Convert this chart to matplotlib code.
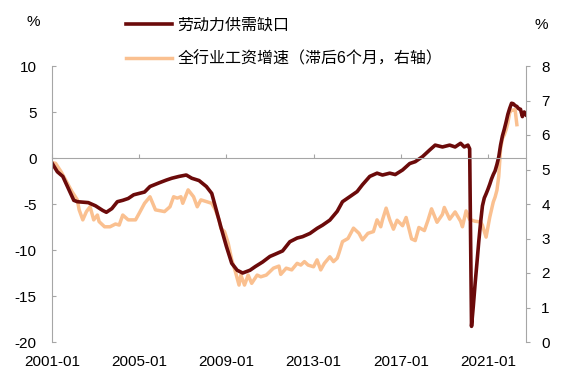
import matplotlib
matplotlib.use("Agg")
import matplotlib.pyplot as plt
import pandas as pd

plt.rcParams['font.family'] = ['Liberation Sans', 'Noto Sans CJK SC']

# ---- data ----
dark_dates = ["2001-01", "2001-04", "2001-07", "2001-10", "2002-01", "2002-03", "2002-06", "2002-09",
              "2003-01", "2003-05", "2003-07", "2003-10", "2004-01", "2004-04", "2004-07", "2004-10",
              "2005-04", "2005-07", "2005-12", "2006-04", "2006-07", "2006-11", "2007-03", "2007-06",
              "2007-10", "2008-02", "2008-05", "2008-07", "2008-10", "2009-01", "2009-04", "2009-07",
              "2009-10", "2010-02", "2010-05", "2010-09", "2011-01", "2011-04", "2011-08", "2011-12",
              "2012-04", "2012-07", "2012-11", "2013-03", "2013-06", "2013-10", "2014-02", "2014-05",
              "2014-09", "2015-01", "2015-04", "2015-08", "2015-12", "2016-03", "2016-07", "2016-10",
              "2017-02", "2017-06", "2017-09", "2018-01", "2018-05", "2018-08", "2018-12", "2019-04",
              "2019-07", "2019-10", "2019-12", "2020-02", "2020-03", "2020-04", "2020-05", "2020-06",
              "2020-07", "2020-08", "2020-09", "2020-10", "2020-11", "2020-12", "2021-01", "2021-02",
              "2021-03", "2021-04", "2021-05", "2021-06", "2021-07", "2021-08", "2021-09", "2021-10",
              "2021-11", "2021-12", "2022-01", "2022-02", "2022-03", "2022-04", "2022-05", "2022-06",
              "2022-07", "2022-08", "2022-09", "2022-10"]
dark_values = [-0.55, -1.5, -2.0, -3.3, -4.6, -4.75, -4.8, -4.85,
               -5.2, -5.7, -5.9, -5.5, -4.75, -4.6, -4.4, -4.0,
               -3.7, -3.1, -2.7, -2.4, -2.2, -2.0, -1.85, -2.2,
               -2.45, -3.1, -3.85, -5.3, -7.5, -9.6, -11.45, -12.2,
               -12.5, -12.2, -11.8, -11.3, -10.7, -10.45, -10.1, -9.1,
               -8.7, -8.55, -8.2, -7.65, -7.3, -6.75, -5.8, -4.75,
               -4.2, -3.65, -2.9, -2.0, -1.65, -1.85, -1.65, -1.8,
               -1.3, -0.6, -0.4, 0.15, 0.87, 1.4, 1.2, 1.4,
               1.2, 1.6, 1.2, 1.4, 1.0, -18.3, -16.1, -13.6,
               -11.4, -9.05, -6.95, -5.2, -4.35, -3.9, -3.4, -2.85,
               -2.3, -1.8, -1.4, -0.7, 0.1, 1.4, 2.4, 3.1,
               3.9, 4.75, 5.4, 5.95, 5.9, 5.7, 5.6, 5.35,
               5.3, 4.5, 5.0, 4.7]

light_dates = ["2001-01", "2001-03", "2001-06", "2001-09", "2001-12", "2002-03", "2002-04", "2002-06",
               "2002-08", "2002-10", "2002-12", "2003-02", "2003-03", "2003-06", "2003-09", "2003-12",
               "2004-02", "2004-04", "2004-07", "2004-11", "2005-01", "2005-04", "2005-07", "2005-10",
               "2006-01", "2006-03", "2006-06", "2006-08", "2006-10", "2006-12", "2007-01", "2007-04",
               "2007-07", "2007-09", "2007-11", "2008-02", "2008-05", "2008-07", "2008-09", "2008-10",
               "2008-12", "2009-02", "2009-04", "2009-06", "2009-08", "2009-09", "2009-11", "2010-01",
               "2010-03", "2010-06", "2010-08", "2010-11", "2011-03", "2011-06", "2011-07", "2011-10",
               "2012-01", "2012-04", "2012-06", "2012-08", "2012-10", "2013-01", "2013-03", "2013-05",
               "2013-07", "2013-10", "2013-12", "2014-02", "2014-03", "2014-05", "2014-08", "2014-11",
               "2015-02", "2015-04", "2015-07", "2015-10", "2015-12", "2016-02", "2016-03", "2016-05",
               "2016-07", "2016-09", "2016-11", "2017-02", "2017-04", "2017-07", "2017-09", "2017-11",
               "2018-02", "2018-04", "2018-06", "2018-09", "2018-12", "2019-01", "2019-04", "2019-07",
               "2019-10", "2019-11", "2020-01", "2020-03", "2020-06", "2020-09", "2020-10", "2020-12",
               "2021-02", "2021-04", "2021-05", "2021-06", "2021-07", "2021-08", "2021-09", "2021-10",
               "2021-11", "2021-12", "2022-01", "2022-02", "2022-03", "2022-04", "2022-05"]
light_values = [5.2, 5.18, 4.94, 4.65, 4.36, 4.12, 3.83, 3.54,
                3.78, 3.92, 3.54, 3.68, 3.49, 3.34, 3.34, 3.42,
                3.39, 3.68, 3.54, 3.54, 3.73, 4.02, 4.21, 3.83,
                3.8, 3.78, 3.92, 4.21, 4.17, 4.21, 4.02, 4.41,
                4.21, 3.92, 4.12, 4.07, 4.02, 3.83, 3.54, 3.29,
                3.2, 2.86, 2.38, 2.04, 1.65, 1.94, 1.65, 1.94,
                1.70, 1.94, 1.89, 1.94, 2.14, 2.2, 1.96, 2.14,
                2.09, 2.28, 2.23, 2.33, 2.23, 2.18, 2.38, 2.09,
                2.28, 2.47, 2.33, 2.43, 2.57, 2.91, 3.0, 3.3,
                3.15, 2.96, 3.15, 3.2, 3.54, 3.34, 3.54, 3.88,
                3.54, 3.27, 3.53, 3.37, 3.61, 2.99, 2.94, 3.32,
                3.23, 3.52, 3.86, 3.47, 3.7, 3.9, 3.56, 3.77,
                3.5, 3.34, 3.8, 3.55, 3.5, 3.48, 3.38, 3.04,
                3.62, 4.06, 4.2, 4.4, 4.8, 5.6, 5.9, 6.0,
                6.15, 6.35, 6.65, 6.72, 6.72, 6.74, 6.3]

x_ticks = ["2001-01", "2005-01", "2009-01", "2013-01", "2017-01", "2021-01"]
left_ticks = [-20, -15, -10, -5, 0, 5, 10]
right_ticks = [0, 1, 2, 3, 4, 5, 6, 7, 8]

dark_label = "劳动力供需缺口"
light_label = "全行业工资增速（滞后6个月，右轴）"

DARK = "#6B0A0A"
LIGHT = "#FAC090"
GRAY = "#A6A6A6"

# ---- figure ----
fig = plt.figure(figsize=(5.64, 3.78), dpi=100)
ax = fig.add_axes([52/564, 1-342/378, (526-52)/564, (342-66)/378])
ax2 = ax.twinx()
ax.set_zorder(ax2.get_zorder() + 1)
ax.patch.set_visible(False)

dd = pd.to_datetime(dark_dates, format="%Y-%m")
ld = pd.to_datetime(light_dates, format="%Y-%m")
xt = pd.to_datetime(x_ticks, format="%Y-%m")

l2, = ax2.plot(ld, light_values, color=LIGHT, lw=2.5, solid_joinstyle='round')
l1, = ax.plot(dd, dark_values, color=DARK, lw=2.6, solid_joinstyle='round')

ax.set_xlim(pd.Timestamp("2001-01-01"), pd.Timestamp("2022-10-01"))
ax.set_ylim(-20, 10)
ax2.set_ylim(0, 8)

# left axis
ax.set_yticks(left_ticks)
ax.set_yticklabels([str(v) for v in left_ticks])
ax.tick_params(axis='y', direction='in', length=3, color=GRAY, labelsize=11, pad=11)
for s in ['top', 'right']:
    ax.spines[s].set_visible(False)
ax.spines['left'].set_color(GRAY)
ax.spines['bottom'].set_color(GRAY)
ax.spines['bottom'].set_position(('data', 0))

# x ticks on zero line (pointing up), labels at bottom
ax.set_xticks(xt)
ax.tick_params(axis='x', direction='in', length=3, color=GRAY, labelbottom=False)
sec = ax.secondary_xaxis('bottom')
sec.set_xticks(xt)
sec.set_xticklabels(x_ticks)
sec.tick_params(length=0, labelsize=11, pad=9)
sec.spines['bottom'].set_visible(False)

# right axis
ax2.set_yticks(right_ticks)
ax2.set_yticklabels([str(v) for v in right_ticks])
ax2.tick_params(axis='y', direction='out', length=3, color=GRAY, labelsize=11, pad=8)
for s in ['top', 'left', 'bottom']:
    ax2.spines[s].set_visible(False)
ax2.spines['right'].set_color(GRAY)

fig.text(33/564, 1-22/378, "%", fontsize=11, ha='center', va='center')
fig.text(541/564, 1-25/378, "%", fontsize=11, ha='center', va='center')

fig.legend([l1, l2], [dark_label, light_label], loc='upper left',
           bbox_to_anchor=(126/564, 1-18/378), frameon=False, fontsize=11.5,
           handlelength=2.9, handletextpad=0.3, labelspacing=1.15,
           borderpad=0, borderaxespad=0)

fig.savefig("out.png", dpi=100)
